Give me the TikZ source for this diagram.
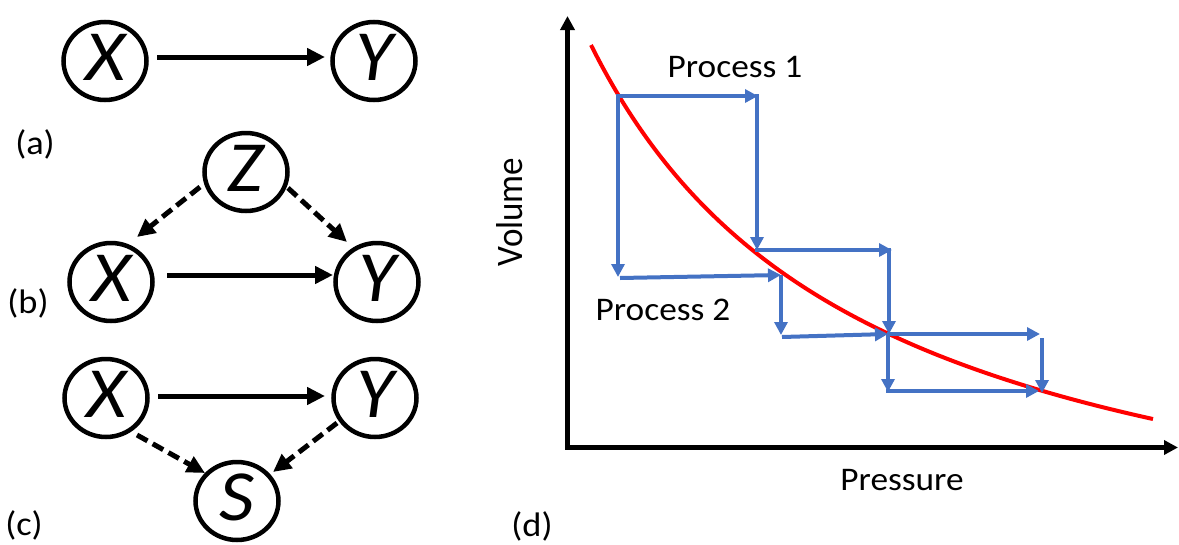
\documentclass[tikz,border=0pt]{standalone}
\usepackage{fontspec}
\setmainfont{Carlito}
\usepackage{graphicx}
\usetikzlibrary{arrows.meta,shapes.geometric}
\definecolor{pblue}{HTML}{4472C4}
\newcommand{\hstr}[1]{\scalebox{1.07}[1]{#1}}
\begin{document}
\begin{tikzpicture}[x=1pt,y=-1pt,
  circ/.style={ellipse,draw,line width=4.5pt,minimum width=83pt,minimum height=78pt,inner sep=0pt,
    font=\fontsize{72}{72}\selectfont\itshape,text height=38pt,text depth=0pt},
  arr/.style={line width=5pt,-{Triangle[length=18pt,width=17pt]}},
  darr/.style={arr,dash pattern=on 12pt off 6pt},
  barr/.style={pblue,line width=4pt,-{Triangle[length=13pt,width=13pt]}},
  axisline/.style={line width=5pt,{Triangle[length=14pt,width=14pt]}-{Triangle[length=14pt,width=14pt]}},
  lab/.style={font=\fontsize{34}{34}\selectfont,inner sep=0pt},
  txt/.style={font=\fontsize{33}{33}\selectfont,inner sep=0pt}
]
\useasboundingbox (0,0) rectangle (1179,544);

% ---------- (a) ----------
\node[circ] (Xa) at (105,61) {\hstr{X}};
\node[circ] (Ya) at (374,61) {\hstr{Y}};
\draw[arr] ([xshift=52pt,yshift=4pt]Xa.center) -- ([xshift=-49pt,yshift=4pt]Ya.center);
\node[lab] (la) at (35,144) {\hstr{(a)}};

% ---------- (b) ----------
\node[circ] (Z) at (246,172) {\hstr{Z}};
\node[circ] (Xb) at (111,282) {\hstr{X}};
\node[circ] (Yb) at (377,282) {\hstr{Y}};
\draw[arr] ([xshift=56pt,yshift=7pt]Xb.center) -- ([xshift=-44pt,yshift=7pt]Yb.center);
\draw[darr] ([xshift=-46pt,yshift=-15pt]Z.center) -- ([xshift=26pt,yshift=45pt]Xb.center);
\draw[darr] ([xshift=42pt,yshift=-16pt]Z.center) -- ([xshift=-30pt,yshift=40pt]Yb.center);
\node[lab] (lb) at (28,303) {\hstr{(b)}};

% ---------- (c) ----------
\node[circ] (Xc) at (106,398) {\hstr{X}};
\node[circ] (Yc) at (375,398) {\hstr{Y}};
\node[circ] (S) at (237,501) {\hstr{S}};
\draw[arr] ([xshift=52pt,yshift=2pt]Xc.center) -- ([xshift=-50pt,yshift=2pt]Yc.center);
\draw[darr] ([xshift=31pt,yshift=-37pt]Xc.center) -- ([xshift=-32pt,yshift=28pt]S.center);
\draw[darr] ([xshift=-38pt,yshift=-25pt]Yc.center) -- ([xshift=36pt,yshift=29pt]S.center);
\node[lab] (lc) at (24,525) {\hstr{(c)}};

% ---------- (d) ----------
\coordinate (Ytop) at (567.5,16);
\coordinate (Xend) at (1178,447.5);
\draw[axisline] (Ytop) |- (Xend);

\draw[red,line width=4pt] plot[domain=5.91:11.53,samples=120,smooth] ({\x*100},{604.9-1563.8/(\x-3.117)});

% process 1
\coordinate (A0b) at (616,96);
\coordinate (A1) at (758,96);
\coordinate (A1b) at (757,94);
\coordinate (A2) at (757,250);
\coordinate (A2b) at (755,250);
\coordinate (A3) at (892,250);
\coordinate (A3b) at (889,248);
\coordinate (A4) at (889,334);
\coordinate (A4b) at (887,334);
\coordinate (A5) at (1040,334);
\coordinate (A5b) at (1042,338);
\coordinate (A6) at (1042,393);
\draw[barr] (A0b) -- (A1);
\draw[barr] (A1b) -- (A2);
\draw[barr] (A2b) -- (A3);
\draw[barr] (A3b) -- (A4);
\draw[barr] (A4b) -- (A5);
\draw[barr] (A5b) -- (A6);

% process 2
\coordinate (B0) at (618,94);
\coordinate (B1) at (618,277);
\coordinate (B1b) at (620,278);
\coordinate (B2) at (781,275);
\coordinate (B2b) at (781,275);
\coordinate (B3) at (781,335);
\coordinate (B3b) at (782,337);
\coordinate (B4) at (888,334);
\coordinate (B4b) at (888,334);
\coordinate (B5) at (888,392);
\coordinate (B5b) at (886,391);
\coordinate (B6) at (1039,391);
\draw[barr] (B0) -- (B1);
\draw[barr] (B1b) -- (B2);
\draw[barr] (B2b) -- (B3);
\draw[barr] (B3b) -- (B4);
\draw[barr] (B4b) -- (B5);
\draw[barr] (B5b) -- (B6);

\node[txt,anchor=base] (p1) at (735,77) {\hstr{Process 1}};
\node[txt,anchor=base] (p2) at (663,320) {\hstr{Process 2}};
\node[txt,anchor=base] (pr) at (902,490) {\hstr{Pressure}};
\node[txt,rotate=90,font=\fontsize{35}{35}\selectfont] (vol) at (510,212) {\scalebox{1}[1.07]{Volume}};
\node[lab] (ld) at (532,526) {\hstr{(d)}};
\end{tikzpicture}
\end{document}
